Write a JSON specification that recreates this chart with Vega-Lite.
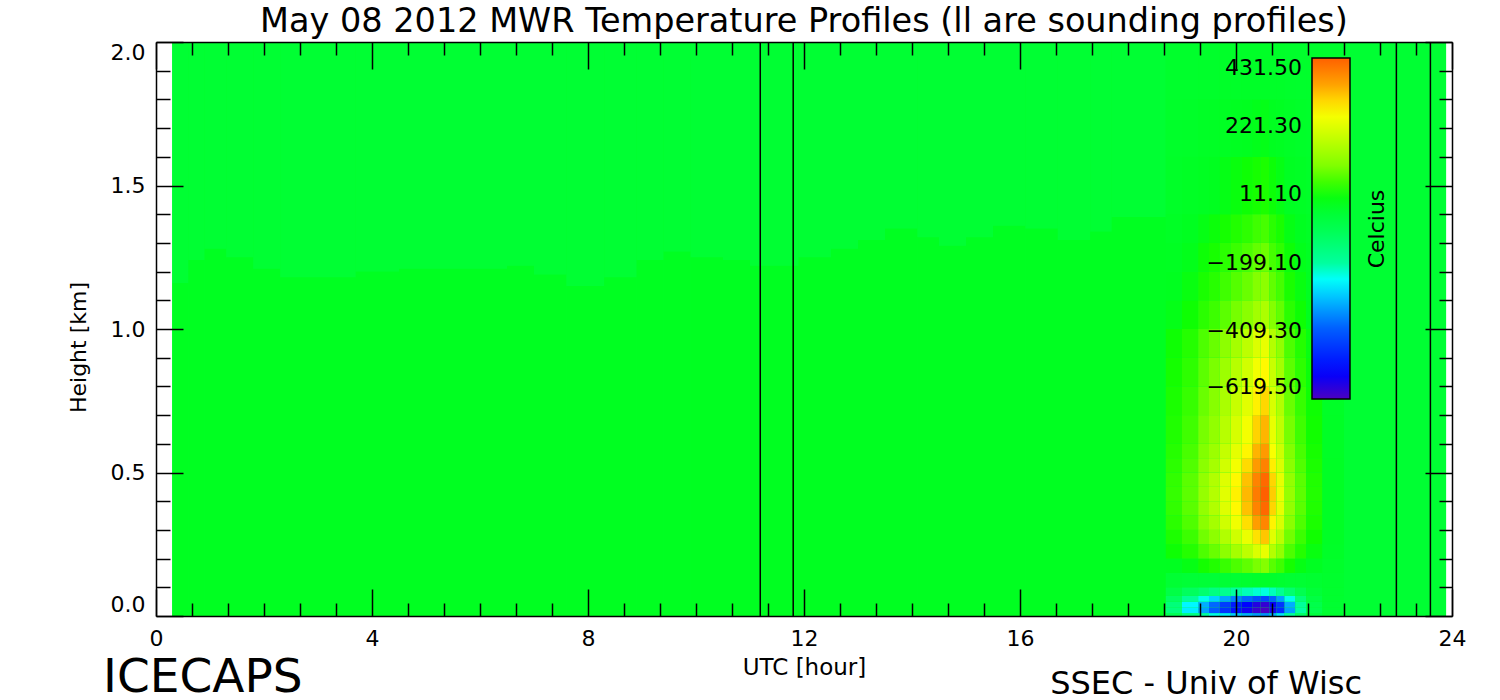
{
"$schema": "https://vega.github.io/schema/vega-lite/v6.json",
"width": 1296, "height": 574,
"autosize": {"type": "none"},
"padding": {"left": 156, "top": 42, "right": 48, "bottom": 84},
"background": "white",
"config": {"view": {"stroke": null}, "font": "DejaVu Sans"},
"title": {"text": "May 08 2012 MWR Temperature Profiles (ll are sounding profiles)", "fontSize": 33.5, "font": "DejaVu Sans", "fontWeight": "normal", "color": "black", "anchor": "middle", "offset": 2},
"resolve": {"axis": {"x": "independent", "y": "independent"}},
"layer": [
{
"data": {"values": [
{"a":0.3,"b":23.89,"c":0,"d":2,"v":-30},
{"a":0.3,"b":0.6,"c":0,"d":1.16,"v":-15},{"a":0.3,"b":0.6,"c":1.16,"d":2,"v":-45},
{"a":0.6,"b":0.9,"c":0,"d":1.24,"v":-15},{"a":0.6,"b":0.9,"c":1.24,"d":2,"v":-45},
{"a":0.9,"b":1.3,"c":0,"d":1.28,"v":-15},{"a":0.9,"b":1.3,"c":1.28,"d":2,"v":-45},
{"a":1.3,"b":1.8,"c":0,"d":1.25,"v":-15},{"a":1.3,"b":1.8,"c":1.25,"d":2,"v":-45},
{"a":1.8,"b":2.3,"c":0,"d":1.21,"v":-15},{"a":1.8,"b":2.3,"c":1.21,"d":2,"v":-45},
{"a":2.3,"b":3.7,"c":0,"d":1.18,"v":-15},{"a":2.3,"b":3.7,"c":1.18,"d":2,"v":-45},
{"a":3.7,"b":4.5,"c":0,"d":1.2,"v":-15},{"a":3.7,"b":4.5,"c":1.2,"d":2,"v":-45},
{"a":4.5,"b":6.5,"c":0,"d":1.21,"v":-15},{"a":4.5,"b":6.5,"c":1.21,"d":2,"v":-45},
{"a":6.5,"b":7,"c":0,"d":1.22,"v":-15},{"a":6.5,"b":7,"c":1.22,"d":2,"v":-45},
{"a":7,"b":7.6,"c":0,"d":1.19,"v":-15},{"a":7,"b":7.6,"c":1.19,"d":2,"v":-45},
{"a":7.6,"b":8.3,"c":0,"d":1.15,"v":-15},{"a":7.6,"b":8.3,"c":1.15,"d":2,"v":-45},
{"a":8.3,"b":8.9,"c":0,"d":1.18,"v":-15},{"a":8.3,"b":8.9,"c":1.18,"d":2,"v":-45},
{"a":8.9,"b":9.4,"c":0,"d":1.24,"v":-15},{"a":8.9,"b":9.4,"c":1.24,"d":2,"v":-45},
{"a":9.4,"b":9.9,"c":0,"d":1.27,"v":-15},{"a":9.4,"b":9.9,"c":1.27,"d":2,"v":-45},
{"a":9.9,"b":10.5,"c":0,"d":1.25,"v":-15},{"a":9.9,"b":10.5,"c":1.25,"d":2,"v":-45},
{"a":10.5,"b":11,"c":0,"d":1.24,"v":-15},{"a":10.5,"b":11,"c":1.24,"d":2,"v":-45},
{"a":11,"b":11.9,"c":0,"d":1.22,"v":-15},{"a":11,"b":11.9,"c":1.22,"d":2,"v":-45},
{"a":11.9,"b":12.5,"c":0,"d":1.25,"v":-15},{"a":11.9,"b":12.5,"c":1.25,"d":2,"v":-45},
{"a":12.5,"b":13,"c":0,"d":1.28,"v":-15},{"a":12.5,"b":13,"c":1.28,"d":2,"v":-45},
{"a":13,"b":13.5,"c":0,"d":1.31,"v":-15},{"a":13,"b":13.5,"c":1.31,"d":2,"v":-45},
{"a":13.5,"b":14.1,"c":0,"d":1.35,"v":-15},{"a":13.5,"b":14.1,"c":1.35,"d":2,"v":-45},
{"a":14.1,"b":14.5,"c":0,"d":1.32,"v":-15},{"a":14.1,"b":14.5,"c":1.32,"d":2,"v":-45},
{"a":14.5,"b":15,"c":0,"d":1.29,"v":-15},{"a":14.5,"b":15,"c":1.29,"d":2,"v":-45},
{"a":15,"b":15.5,"c":0,"d":1.32,"v":-15},{"a":15,"b":15.5,"c":1.32,"d":2,"v":-45},
{"a":15.5,"b":16.1,"c":0,"d":1.36,"v":-15},{"a":15.5,"b":16.1,"c":1.36,"d":2,"v":-45},
{"a":16.1,"b":16.7,"c":0,"d":1.35,"v":-15},{"a":16.1,"b":16.7,"c":1.35,"d":2,"v":-45},
{"a":16.7,"b":17.3,"c":0,"d":1.31,"v":-15},{"a":16.7,"b":17.3,"c":1.31,"d":2,"v":-45},
{"a":17.3,"b":17.7,"c":0,"d":1.34,"v":-15},{"a":17.3,"b":17.7,"c":1.34,"d":2,"v":-45},
{"a":17.7,"b":18.7,"c":0,"d":1.39,"v":-15},{"a":17.7,"b":18.7,"c":1.39,"d":2,"v":-45},
{"a":22,"b":23.89,"c":0,"d":2,"v":-45},
{"a":18.7,"b":19,"c":0,"d":0.01,"v":-102},{"a":18.7,"b":19,"c":0.01,"d":0.03,"v":-157},{"a":18.7,"b":19,"c":0.03,"d":0.05,"v":-153},{"a":18.7,"b":19,"c":0.05,"d":0.07,"v":-119},{"a":18.7,"b":19,"c":0.07,"d":0.1,"v":-77},{"a":18.7,"b":19,"c":0.1,"d":0.15,"v":-45},{"a":18.7,"b":19,"c":0.15,"d":0.2,"v":-13},{"a":18.7,"b":19,"c":0.2,"d":0.25,"v":8},{"a":18.7,"b":19,"c":0.25,"d":0.3,"v":21},{"a":18.7,"b":19,"c":0.3,"d":0.35,"v":32},{"a":18.7,"b":19,"c":0.35,"d":0.4,"v":38},{"a":18.7,"b":19,"c":0.4,"d":0.45,"v":40},{"a":18.7,"b":19,"c":0.45,"d":0.5,"v":38},{"a":18.7,"b":19,"c":0.5,"d":0.55,"v":33},{"a":18.7,"b":19,"c":0.55,"d":0.6,"v":28},{"a":18.7,"b":19,"c":0.6,"d":0.7,"v":23},{"a":18.7,"b":19,"c":0.7,"d":0.8,"v":19},{"a":18.7,"b":19,"c":0.8,"d":0.9,"v":14},{"a":18.7,"b":19,"c":0.9,"d":1,"v":8},{"a":18.7,"b":19,"c":1,"d":1.1,"v":-5},{"a":18.7,"b":19,"c":1.1,"d":1.2,"v":-11},{"a":18.7,"b":19,"c":1.2,"d":1.3,"v":-16},{"a":18.7,"b":19,"c":1.3,"d":1.4,"v":-21},{"a":18.7,"b":19,"c":1.4,"d":1.6,"v":-26},{"a":18.7,"b":19,"c":1.6,"d":1.8,"v":-30},{"a":18.7,"b":19,"c":1.8,"d":2,"v":-33},
{"a":19,"b":19.3,"c":0,"d":0.01,"v":-163},{"a":19,"b":19.3,"c":0.01,"d":0.03,"v":-267},{"a":19,"b":19.3,"c":0.03,"d":0.05,"v":-259},{"a":19,"b":19.3,"c":0.05,"d":0.07,"v":-195},{"a":19,"b":19.3,"c":0.07,"d":0.1,"v":-115},{"a":19,"b":19.3,"c":0.1,"d":0.15,"v":-50},{"a":19,"b":19.3,"c":0.15,"d":0.2,"v":-3},{"a":19,"b":19.3,"c":0.2,"d":0.25,"v":27},{"a":19,"b":19.3,"c":0.25,"d":0.3,"v":46},{"a":19,"b":19.3,"c":0.3,"d":0.35,"v":62},{"a":19,"b":19.3,"c":0.35,"d":0.4,"v":70},{"a":19,"b":19.3,"c":0.4,"d":0.45,"v":72},{"a":19,"b":19.3,"c":0.45,"d":0.5,"v":70},{"a":19,"b":19.3,"c":0.5,"d":0.55,"v":63},{"a":19,"b":19.3,"c":0.55,"d":0.6,"v":56},{"a":19,"b":19.3,"c":0.6,"d":0.7,"v":49},{"a":19,"b":19.3,"c":0.7,"d":0.8,"v":42},{"a":19,"b":19.3,"c":0.8,"d":0.9,"v":35},{"a":19,"b":19.3,"c":0.9,"d":1,"v":27},{"a":19,"b":19.3,"c":1,"d":1.1,"v":9},{"a":19,"b":19.3,"c":1.1,"d":1.2,"v":0},{"a":19,"b":19.3,"c":1.2,"d":1.3,"v":-7},{"a":19,"b":19.3,"c":1.3,"d":1.4,"v":-14},{"a":19,"b":19.3,"c":1.4,"d":1.6,"v":-22},{"a":19,"b":19.3,"c":1.6,"d":1.8,"v":-28},{"a":19,"b":19.3,"c":1.8,"d":2,"v":-33},
{"a":19.3,"b":19.5,"c":0,"d":0.01,"v":-201},{"a":19.3,"b":19.5,"c":0.01,"d":0.03,"v":-337},{"a":19.3,"b":19.5,"c":0.03,"d":0.05,"v":-326},{"a":19.3,"b":19.5,"c":0.05,"d":0.07,"v":-243},{"a":19.3,"b":19.5,"c":0.07,"d":0.1,"v":-139},{"a":19.3,"b":19.5,"c":0.1,"d":0.15,"v":-50},{"a":19.3,"b":19.5,"c":0.15,"d":0.2,"v":14},{"a":19.3,"b":19.5,"c":0.2,"d":0.25,"v":60},{"a":19.3,"b":19.5,"c":0.25,"d":0.3,"v":88},{"a":19.3,"b":19.5,"c":0.3,"d":0.35,"v":112},{"a":19.3,"b":19.5,"c":0.35,"d":0.4,"v":124},{"a":19.3,"b":19.5,"c":0.4,"d":0.45,"v":128},{"a":19.3,"b":19.5,"c":0.45,"d":0.5,"v":124},{"a":19.3,"b":19.5,"c":0.5,"d":0.55,"v":114},{"a":19.3,"b":19.5,"c":0.55,"d":0.6,"v":103},{"a":19.3,"b":19.5,"c":0.6,"d":0.7,"v":93},{"a":19.3,"b":19.5,"c":0.7,"d":0.8,"v":82},{"a":19.3,"b":19.5,"c":0.8,"d":0.9,"v":72},{"a":19.3,"b":19.5,"c":0.9,"d":1,"v":60},{"a":19.3,"b":19.5,"c":1,"d":1.1,"v":32},{"a":19.3,"b":19.5,"c":1.1,"d":1.2,"v":18},{"a":19.3,"b":19.5,"c":1.2,"d":1.3,"v":7},{"a":19.3,"b":19.5,"c":1.3,"d":1.4,"v":-3},{"a":19.3,"b":19.5,"c":1.4,"d":1.6,"v":-16},{"a":19.3,"b":19.5,"c":1.6,"d":1.8,"v":-24},{"a":19.3,"b":19.5,"c":1.8,"d":2,"v":-31},
{"a":19.5,"b":19.7,"c":0,"d":0.01,"v":-240},{"a":19.5,"b":19.7,"c":0.01,"d":0.03,"v":-406},{"a":19.5,"b":19.7,"c":0.03,"d":0.05,"v":-393},{"a":19.5,"b":19.7,"c":0.05,"d":0.07,"v":-291},{"a":19.5,"b":19.7,"c":0.07,"d":0.1,"v":-163},{"a":19.5,"b":19.7,"c":0.1,"d":0.15,"v":-50},{"a":19.5,"b":19.7,"c":0.15,"d":0.2,"v":25},{"a":19.5,"b":19.7,"c":0.2,"d":0.25,"v":81},{"a":19.5,"b":19.7,"c":0.25,"d":0.3,"v":116},{"a":19.5,"b":19.7,"c":0.3,"d":0.35,"v":146},{"a":19.5,"b":19.7,"c":0.35,"d":0.4,"v":161},{"a":19.5,"b":19.7,"c":0.4,"d":0.45,"v":165},{"a":19.5,"b":19.7,"c":0.45,"d":0.5,"v":161},{"a":19.5,"b":19.7,"c":0.5,"d":0.55,"v":148},{"a":19.5,"b":19.7,"c":0.55,"d":0.6,"v":135},{"a":19.5,"b":19.7,"c":0.6,"d":0.7,"v":122},{"a":19.5,"b":19.7,"c":0.7,"d":0.8,"v":109},{"a":19.5,"b":19.7,"c":0.8,"d":0.9,"v":96},{"a":19.5,"b":19.7,"c":0.9,"d":1,"v":81},{"a":19.5,"b":19.7,"c":1,"d":1.1,"v":47},{"a":19.5,"b":19.7,"c":1.1,"d":1.2,"v":30},{"a":19.5,"b":19.7,"c":1.2,"d":1.3,"v":17},{"a":19.5,"b":19.7,"c":1.3,"d":1.4,"v":4},{"a":19.5,"b":19.7,"c":1.4,"d":1.6,"v":-11},{"a":19.5,"b":19.7,"c":1.6,"d":1.8,"v":-22},{"a":19.5,"b":19.7,"c":1.8,"d":2,"v":-31},
{"a":19.7,"b":19.9,"c":0,"d":0.01,"v":-272},{"a":19.7,"b":19.9,"c":0.01,"d":0.03,"v":-464},{"a":19.7,"b":19.9,"c":0.03,"d":0.05,"v":-449},{"a":19.7,"b":19.9,"c":0.05,"d":0.07,"v":-331},{"a":19.7,"b":19.9,"c":0.07,"d":0.1,"v":-183},{"a":19.7,"b":19.9,"c":0.1,"d":0.15,"v":-48},{"a":19.7,"b":19.9,"c":0.15,"d":0.2,"v":43},{"a":19.7,"b":19.9,"c":0.2,"d":0.25,"v":116},{"a":19.7,"b":19.9,"c":0.25,"d":0.3,"v":161},{"a":19.7,"b":19.9,"c":0.3,"d":0.35,"v":200},{"a":19.7,"b":19.9,"c":0.35,"d":0.4,"v":220},{"a":19.7,"b":19.9,"c":0.4,"d":0.45,"v":226},{"a":19.7,"b":19.9,"c":0.45,"d":0.5,"v":220},{"a":19.7,"b":19.9,"c":0.5,"d":0.55,"v":203},{"a":19.7,"b":19.9,"c":0.55,"d":0.6,"v":186},{"a":19.7,"b":19.9,"c":0.6,"d":0.7,"v":169},{"a":19.7,"b":19.9,"c":0.7,"d":0.8,"v":153},{"a":19.7,"b":19.9,"c":0.8,"d":0.9,"v":136},{"a":19.7,"b":19.9,"c":0.9,"d":1,"v":116},{"a":19.7,"b":19.9,"c":1,"d":1.1,"v":71},{"a":19.7,"b":19.9,"c":1.1,"d":1.2,"v":49},{"a":19.7,"b":19.9,"c":1.2,"d":1.3,"v":32},{"a":19.7,"b":19.9,"c":1.3,"d":1.4,"v":15},{"a":19.7,"b":19.9,"c":1.4,"d":1.6,"v":-4},{"a":19.7,"b":19.9,"c":1.6,"d":1.8,"v":-18},{"a":19.7,"b":19.9,"c":1.8,"d":2,"v":-29},
{"a":19.9,"b":20.1,"c":0,"d":0.01,"v":-301},{"a":19.9,"b":20.1,"c":0.01,"d":0.03,"v":-516},{"a":19.9,"b":20.1,"c":0.03,"d":0.05,"v":-500},{"a":19.9,"b":20.1,"c":0.05,"d":0.07,"v":-367},{"a":19.9,"b":20.1,"c":0.07,"d":0.1,"v":-201},{"a":19.9,"b":20.1,"c":0.1,"d":0.15,"v":-45},{"a":19.9,"b":20.1,"c":0.15,"d":0.2,"v":59},{"a":19.9,"b":20.1,"c":0.2,"d":0.25,"v":146},{"a":19.9,"b":20.1,"c":0.25,"d":0.3,"v":200},{"a":19.9,"b":20.1,"c":0.3,"d":0.35,"v":246},{"a":19.9,"b":20.1,"c":0.35,"d":0.4,"v":270},{"a":19.9,"b":20.1,"c":0.4,"d":0.45,"v":277},{"a":19.9,"b":20.1,"c":0.45,"d":0.5,"v":270},{"a":19.9,"b":20.1,"c":0.5,"d":0.55,"v":250},{"a":19.9,"b":20.1,"c":0.55,"d":0.6,"v":230},{"a":19.9,"b":20.1,"c":0.6,"d":0.7,"v":210},{"a":19.9,"b":20.1,"c":0.7,"d":0.8,"v":189},{"a":19.9,"b":20.1,"c":0.8,"d":0.9,"v":169},{"a":19.9,"b":20.1,"c":0.9,"d":1,"v":146},{"a":19.9,"b":20.1,"c":1,"d":1.1,"v":92},{"a":19.9,"b":20.1,"c":1.1,"d":1.2,"v":66},{"a":19.9,"b":20.1,"c":1.2,"d":1.3,"v":45},{"a":19.9,"b":20.1,"c":1.3,"d":1.4,"v":25},{"a":19.9,"b":20.1,"c":1.4,"d":1.6,"v":2},{"a":19.9,"b":20.1,"c":1.6,"d":1.8,"v":-15},{"a":19.9,"b":20.1,"c":1.8,"d":2,"v":-28},
{"a":20.1,"b":20.3,"c":0,"d":0.01,"v":-323},{"a":20.1,"b":20.3,"c":0.01,"d":0.03,"v":-557},{"a":20.1,"b":20.3,"c":0.03,"d":0.05,"v":-539},{"a":20.1,"b":20.3,"c":0.05,"d":0.07,"v":-395},{"a":20.1,"b":20.3,"c":0.07,"d":0.1,"v":-215},{"a":20.1,"b":20.3,"c":0.1,"d":0.15,"v":-40},{"a":20.1,"b":20.3,"c":0.15,"d":0.2,"v":74},{"a":20.1,"b":20.3,"c":0.2,"d":0.25,"v":176},{"a":20.1,"b":20.3,"c":0.25,"d":0.3,"v":238},{"a":20.1,"b":20.3,"c":0.3,"d":0.35,"v":293},{"a":20.1,"b":20.3,"c":0.35,"d":0.4,"v":320},{"a":20.1,"b":20.3,"c":0.4,"d":0.45,"v":328},{"a":20.1,"b":20.3,"c":0.45,"d":0.5,"v":320},{"a":20.1,"b":20.3,"c":0.5,"d":0.55,"v":297},{"a":20.1,"b":20.3,"c":0.55,"d":0.6,"v":273},{"a":20.1,"b":20.3,"c":0.6,"d":0.7,"v":250},{"a":20.1,"b":20.3,"c":0.7,"d":0.8,"v":226},{"a":20.1,"b":20.3,"c":0.8,"d":0.9,"v":203},{"a":20.1,"b":20.3,"c":0.9,"d":1,"v":176},{"a":20.1,"b":20.3,"c":1,"d":1.1,"v":113},{"a":20.1,"b":20.3,"c":1.1,"d":1.2,"v":82},{"a":20.1,"b":20.3,"c":1.2,"d":1.3,"v":59},{"a":20.1,"b":20.3,"c":1.3,"d":1.4,"v":35},{"a":20.1,"b":20.3,"c":1.4,"d":1.6,"v":8},{"a":20.1,"b":20.3,"c":1.6,"d":1.8,"v":-12},{"a":20.1,"b":20.3,"c":1.8,"d":2,"v":-27},
{"a":20.3,"b":20.45,"c":0,"d":0.01,"v":-345},{"a":20.3,"b":20.45,"c":0.01,"d":0.03,"v":-598},{"a":20.3,"b":20.45,"c":0.03,"d":0.05,"v":-578},{"a":20.3,"b":20.45,"c":0.05,"d":0.07,"v":-423},{"a":20.3,"b":20.45,"c":0.07,"d":0.1,"v":-229},{"a":20.3,"b":20.45,"c":0.1,"d":0.15,"v":-35},{"a":20.3,"b":20.45,"c":0.15,"d":0.2,"v":95},{"a":20.3,"b":20.45,"c":0.2,"d":0.25,"v":216},{"a":20.3,"b":20.45,"c":0.25,"d":0.3,"v":291},{"a":20.3,"b":20.45,"c":0.3,"d":0.35,"v":356},{"a":20.3,"b":20.45,"c":0.35,"d":0.4,"v":388},{"a":20.3,"b":20.45,"c":0.4,"d":0.45,"v":398},{"a":20.3,"b":20.45,"c":0.45,"d":0.5,"v":388},{"a":20.3,"b":20.45,"c":0.5,"d":0.55,"v":360},{"a":20.3,"b":20.45,"c":0.55,"d":0.6,"v":332},{"a":20.3,"b":20.45,"c":0.6,"d":0.7,"v":304},{"a":20.3,"b":20.45,"c":0.7,"d":0.8,"v":277},{"a":20.3,"b":20.45,"c":0.8,"d":0.9,"v":249},{"a":20.3,"b":20.45,"c":0.9,"d":1,"v":216},{"a":20.3,"b":20.45,"c":1,"d":1.1,"v":142},{"a":20.3,"b":20.45,"c":1.1,"d":1.2,"v":105},{"a":20.3,"b":20.45,"c":1.2,"d":1.3,"v":77},{"a":20.3,"b":20.45,"c":1.3,"d":1.4,"v":49},{"a":20.3,"b":20.45,"c":1.4,"d":1.6,"v":16},{"a":20.3,"b":20.45,"c":1.6,"d":1.8,"v":-7},{"a":20.3,"b":20.45,"c":1.8,"d":2,"v":-26},
{"a":20.45,"b":20.62,"c":0,"d":0.01,"v":-355},{"a":20.45,"b":20.62,"c":0.01,"d":0.03,"v":-615},{"a":20.45,"b":20.62,"c":0.03,"d":0.05,"v":-595},{"a":20.45,"b":20.62,"c":0.05,"d":0.07,"v":-435},{"a":20.45,"b":20.62,"c":0.07,"d":0.1,"v":-235},{"a":20.45,"b":20.62,"c":0.1,"d":0.15,"v":-30},{"a":20.45,"b":20.62,"c":0.15,"d":0.2,"v":105},{"a":20.45,"b":20.62,"c":0.2,"d":0.25,"v":235},{"a":20.45,"b":20.62,"c":0.25,"d":0.3,"v":315},{"a":20.45,"b":20.62,"c":0.3,"d":0.35,"v":385},{"a":20.45,"b":20.62,"c":0.35,"d":0.4,"v":420},{"a":20.45,"b":20.62,"c":0.4,"d":0.45,"v":431},{"a":20.45,"b":20.62,"c":0.45,"d":0.5,"v":420},{"a":20.45,"b":20.62,"c":0.5,"d":0.55,"v":390},{"a":20.45,"b":20.62,"c":0.55,"d":0.6,"v":360},{"a":20.45,"b":20.62,"c":0.6,"d":0.7,"v":330},{"a":20.45,"b":20.62,"c":0.7,"d":0.8,"v":300},{"a":20.45,"b":20.62,"c":0.8,"d":0.9,"v":270},{"a":20.45,"b":20.62,"c":0.9,"d":1,"v":235},{"a":20.45,"b":20.62,"c":1,"d":1.1,"v":155},{"a":20.45,"b":20.62,"c":1.1,"d":1.2,"v":115},{"a":20.45,"b":20.62,"c":1.2,"d":1.3,"v":85},{"a":20.45,"b":20.62,"c":1.3,"d":1.4,"v":55},{"a":20.45,"b":20.62,"c":1.4,"d":1.6,"v":20},{"a":20.45,"b":20.62,"c":1.6,"d":1.8,"v":-5},{"a":20.45,"b":20.62,"c":1.8,"d":2,"v":-25},
{"a":20.62,"b":20.75,"c":0,"d":0.01,"v":-326},{"a":20.62,"b":20.75,"c":0.01,"d":0.03,"v":-563},{"a":20.62,"b":20.75,"c":0.03,"d":0.05,"v":-545},{"a":20.62,"b":20.75,"c":0.05,"d":0.07,"v":-399},{"a":20.62,"b":20.75,"c":0.07,"d":0.1,"v":-217},{"a":20.62,"b":20.75,"c":0.1,"d":0.15,"v":-35},{"a":20.62,"b":20.75,"c":0.15,"d":0.2,"v":69},{"a":20.62,"b":20.75,"c":0.2,"d":0.25,"v":165},{"a":20.62,"b":20.75,"c":0.25,"d":0.3,"v":224},{"a":20.62,"b":20.75,"c":0.3,"d":0.35,"v":276},{"a":20.62,"b":20.75,"c":0.35,"d":0.4,"v":302},{"a":20.62,"b":20.75,"c":0.4,"d":0.45,"v":310},{"a":20.62,"b":20.75,"c":0.45,"d":0.5,"v":302},{"a":20.62,"b":20.75,"c":0.5,"d":0.55,"v":280},{"a":20.62,"b":20.75,"c":0.55,"d":0.6,"v":257},{"a":20.62,"b":20.75,"c":0.6,"d":0.7,"v":235},{"a":20.62,"b":20.75,"c":0.7,"d":0.8,"v":213},{"a":20.62,"b":20.75,"c":0.8,"d":0.9,"v":191},{"a":20.62,"b":20.75,"c":0.9,"d":1,"v":165},{"a":20.62,"b":20.75,"c":1,"d":1.1,"v":106},{"a":20.62,"b":20.75,"c":1.1,"d":1.2,"v":76},{"a":20.62,"b":20.75,"c":1.2,"d":1.3,"v":54},{"a":20.62,"b":20.75,"c":1.3,"d":1.4,"v":32},{"a":20.62,"b":20.75,"c":1.4,"d":1.6,"v":6},{"a":20.62,"b":20.75,"c":1.6,"d":1.8,"v":-13},{"a":20.62,"b":20.75,"c":1.8,"d":2,"v":-28},
{"a":20.75,"b":20.9,"c":0,"d":0.01,"v":-278},{"a":20.75,"b":20.9,"c":0.01,"d":0.03,"v":-476},{"a":20.75,"b":20.9,"c":0.03,"d":0.05,"v":-461},{"a":20.75,"b":20.9,"c":0.05,"d":0.07,"v":-339},{"a":20.75,"b":20.9,"c":0.07,"d":0.1,"v":-187},{"a":20.75,"b":20.9,"c":0.1,"d":0.15,"v":-40},{"a":20.75,"b":20.9,"c":0.15,"d":0.2,"v":48},{"a":20.75,"b":20.9,"c":0.2,"d":0.25,"v":124},{"a":20.75,"b":20.9,"c":0.25,"d":0.3,"v":172},{"a":20.75,"b":20.9,"c":0.3,"d":0.35,"v":213},{"a":20.75,"b":20.9,"c":0.35,"d":0.4,"v":233},{"a":20.75,"b":20.9,"c":0.4,"d":0.45,"v":240},{"a":20.75,"b":20.9,"c":0.45,"d":0.5,"v":233},{"a":20.75,"b":20.9,"c":0.5,"d":0.55,"v":216},{"a":20.75,"b":20.9,"c":0.55,"d":0.6,"v":198},{"a":20.75,"b":20.9,"c":0.6,"d":0.7,"v":180},{"a":20.75,"b":20.9,"c":0.7,"d":0.8,"v":163},{"a":20.75,"b":20.9,"c":0.8,"d":0.9,"v":145},{"a":20.75,"b":20.9,"c":0.9,"d":1,"v":124},{"a":20.75,"b":20.9,"c":1,"d":1.1,"v":77},{"a":20.75,"b":20.9,"c":1.1,"d":1.2,"v":54},{"a":20.75,"b":20.9,"c":1.2,"d":1.3,"v":36},{"a":20.75,"b":20.9,"c":1.3,"d":1.4,"v":18},{"a":20.75,"b":20.9,"c":1.4,"d":1.6,"v":-3},{"a":20.75,"b":20.9,"c":1.6,"d":1.8,"v":-17},{"a":20.75,"b":20.9,"c":1.8,"d":2,"v":-29},
{"a":20.9,"b":21.1,"c":0,"d":0.01,"v":-201},{"a":20.9,"b":21.1,"c":0.01,"d":0.03,"v":-337},{"a":20.9,"b":21.1,"c":0.03,"d":0.05,"v":-326},{"a":20.9,"b":21.1,"c":0.05,"d":0.07,"v":-243},{"a":20.9,"b":21.1,"c":0.07,"d":0.1,"v":-139},{"a":20.9,"b":21.1,"c":0.1,"d":0.15,"v":-45},{"a":20.9,"b":21.1,"c":0.15,"d":0.2,"v":14},{"a":20.9,"b":21.1,"c":0.2,"d":0.25,"v":60},{"a":20.9,"b":21.1,"c":0.25,"d":0.3,"v":88},{"a":20.9,"b":21.1,"c":0.3,"d":0.35,"v":112},{"a":20.9,"b":21.1,"c":0.35,"d":0.4,"v":124},{"a":20.9,"b":21.1,"c":0.4,"d":0.45,"v":128},{"a":20.9,"b":21.1,"c":0.45,"d":0.5,"v":124},{"a":20.9,"b":21.1,"c":0.5,"d":0.55,"v":114},{"a":20.9,"b":21.1,"c":0.55,"d":0.6,"v":103},{"a":20.9,"b":21.1,"c":0.6,"d":0.7,"v":93},{"a":20.9,"b":21.1,"c":0.7,"d":0.8,"v":82},{"a":20.9,"b":21.1,"c":0.8,"d":0.9,"v":72},{"a":20.9,"b":21.1,"c":0.9,"d":1,"v":60},{"a":20.9,"b":21.1,"c":1,"d":1.1,"v":32},{"a":20.9,"b":21.1,"c":1.1,"d":1.2,"v":18},{"a":20.9,"b":21.1,"c":1.2,"d":1.3,"v":7},{"a":20.9,"b":21.1,"c":1.3,"d":1.4,"v":-3},{"a":20.9,"b":21.1,"c":1.4,"d":1.6,"v":-16},{"a":20.9,"b":21.1,"c":1.6,"d":1.8,"v":-24},{"a":20.9,"b":21.1,"c":1.8,"d":2,"v":-31},
{"a":21.1,"b":21.3,"c":0,"d":0.01,"v":-128},{"a":21.1,"b":21.3,"c":0.01,"d":0.03,"v":-203},{"a":21.1,"b":21.3,"c":0.03,"d":0.05,"v":-197},{"a":21.1,"b":21.3,"c":0.05,"d":0.07,"v":-151},{"a":21.1,"b":21.3,"c":0.07,"d":0.1,"v":-93},{"a":21.1,"b":21.3,"c":0.1,"d":0.15,"v":-45},{"a":21.1,"b":21.3,"c":0.15,"d":0.2,"v":-3},{"a":21.1,"b":21.3,"c":0.2,"d":0.25,"v":27},{"a":21.1,"b":21.3,"c":0.25,"d":0.3,"v":46},{"a":21.1,"b":21.3,"c":0.3,"d":0.35,"v":62},{"a":21.1,"b":21.3,"c":0.35,"d":0.4,"v":70},{"a":21.1,"b":21.3,"c":0.4,"d":0.45,"v":72},{"a":21.1,"b":21.3,"c":0.45,"d":0.5,"v":70},{"a":21.1,"b":21.3,"c":0.5,"d":0.55,"v":63},{"a":21.1,"b":21.3,"c":0.55,"d":0.6,"v":56},{"a":21.1,"b":21.3,"c":0.6,"d":0.7,"v":49},{"a":21.1,"b":21.3,"c":0.7,"d":0.8,"v":42},{"a":21.1,"b":21.3,"c":0.8,"d":0.9,"v":35},{"a":21.1,"b":21.3,"c":0.9,"d":1,"v":27},{"a":21.1,"b":21.3,"c":1,"d":1.1,"v":9},{"a":21.1,"b":21.3,"c":1.1,"d":1.2,"v":0},{"a":21.1,"b":21.3,"c":1.2,"d":1.3,"v":-7},{"a":21.1,"b":21.3,"c":1.3,"d":1.4,"v":-14},{"a":21.1,"b":21.3,"c":1.4,"d":1.6,"v":-22},{"a":21.1,"b":21.3,"c":1.6,"d":1.8,"v":-28},{"a":21.1,"b":21.3,"c":1.8,"d":2,"v":-33},
{"a":21.3,"b":21.6,"c":0,"d":0.01,"v":-64},{"a":21.3,"b":21.6,"c":0.01,"d":0.03,"v":-87},{"a":21.3,"b":21.6,"c":0.03,"d":0.05,"v":-85},{"a":21.3,"b":21.6,"c":0.05,"d":0.07,"v":-71},{"a":21.3,"b":21.6,"c":0.07,"d":0.1,"v":-53},{"a":21.3,"b":21.6,"c":0.1,"d":0.15,"v":-40},{"a":21.3,"b":21.6,"c":0.15,"d":0.2,"v":-17},{"a":21.3,"b":21.6,"c":0.2,"d":0.25,"v":0},{"a":21.3,"b":21.6,"c":0.25,"d":0.3,"v":11},{"a":21.3,"b":21.6,"c":0.3,"d":0.35,"v":20},{"a":21.3,"b":21.6,"c":0.35,"d":0.4,"v":24},{"a":21.3,"b":21.6,"c":0.4,"d":0.45,"v":26},{"a":21.3,"b":21.6,"c":0.45,"d":0.5,"v":24},{"a":21.3,"b":21.6,"c":0.5,"d":0.55,"v":20},{"a":21.3,"b":21.6,"c":0.55,"d":0.6,"v":16},{"a":21.3,"b":21.6,"c":0.6,"d":0.7,"v":12},{"a":21.3,"b":21.6,"c":0.7,"d":0.8,"v":9},{"a":21.3,"b":21.6,"c":0.8,"d":0.9,"v":5},{"a":21.3,"b":21.6,"c":0.9,"d":1,"v":0},{"a":21.3,"b":21.6,"c":1,"d":1.1,"v":-10},{"a":21.3,"b":21.6,"c":1.1,"d":1.2,"v":-15},{"a":21.3,"b":21.6,"c":1.2,"d":1.3,"v":-19},{"a":21.3,"b":21.6,"c":1.3,"d":1.4,"v":-23},{"a":21.3,"b":21.6,"c":1.4,"d":1.6,"v":-28},{"a":21.3,"b":21.6,"c":1.6,"d":1.8,"v":-31},{"a":21.3,"b":21.6,"c":1.8,"d":2,"v":-34},
{"a":21.6,"b":22,"c":0,"d":0.01,"v":-38},{"a":21.6,"b":22,"c":0.01,"d":0.03,"v":-41},{"a":21.6,"b":22,"c":0.03,"d":0.05,"v":-41},{"a":21.6,"b":22,"c":0.05,"d":0.07,"v":-39},{"a":21.6,"b":22,"c":0.07,"d":0.1,"v":-37},{"a":21.6,"b":22,"c":0.1,"d":0.15,"v":-35},{"a":21.6,"b":22,"c":0.15,"d":0.2,"v":-31},{"a":21.6,"b":22,"c":0.2,"d":0.25,"v":-27},{"a":21.6,"b":22,"c":0.25,"d":0.3,"v":-24},{"a":21.6,"b":22,"c":0.3,"d":0.35,"v":-22},{"a":21.6,"b":22,"c":0.35,"d":0.4,"v":-21},{"a":21.6,"b":22,"c":0.4,"d":0.45,"v":-21},{"a":21.6,"b":22,"c":0.45,"d":0.5,"v":-21},{"a":21.6,"b":22,"c":0.5,"d":0.55,"v":-22},{"a":21.6,"b":22,"c":0.55,"d":0.6,"v":-23},{"a":21.6,"b":22,"c":0.6,"d":0.7,"v":-24},{"a":21.6,"b":22,"c":0.7,"d":0.8,"v":-25},{"a":21.6,"b":22,"c":0.8,"d":0.9,"v":-26},{"a":21.6,"b":22,"c":0.9,"d":1,"v":-27},{"a":21.6,"b":22,"c":1,"d":1.1,"v":-29},{"a":21.6,"b":22,"c":1.1,"d":1.2,"v":-30},{"a":21.6,"b":22,"c":1.2,"d":1.3,"v":-31},{"a":21.6,"b":22,"c":1.3,"d":1.4,"v":-32},{"a":21.6,"b":22,"c":1.4,"d":1.6,"v":-33},{"a":21.6,"b":22,"c":1.6,"d":1.8,"v":-34},{"a":21.6,"b":22,"c":1.8,"d":2,"v":-35}
]},
"mark": {"type": "rect"},
"encoding": {
"x": {"field": "a", "type": "quantitative", "scale": {"domain": [0, 24], "nice": false, "zero": false},
 "axis": {"orient": "bottom", "zindex": 2, "values": [0,0.6667,1.3333,2,2.6667,3.3333,4,4.6667,5.3333,6,6.6667,7.3333,8,8.6667,9.3333,10,10.6667,11.3333,12,12.6667,13.3333,14,14.6667,15.3333,16,16.6667,17.3333,18,18.6667,19.3333,20,20.6667,21.3333,22,22.6667,23.3333,24],
  "format": ".0f", "labelExpr": "abs(datum.value/4 - round(datum.value/4)) < 0.001 ? datum.label : ''",
  "tickSize": {"condition": {"test": "abs(datum.value/4 - round(datum.value/4)) < 0.001", "value": -27}, "value": -13},
  "tickColor": "black", "tickWidth": 1.5, "domainColor": "black", "domainWidth": 1.5, "grid": false,
  "labelFontSize": 22, "labelFont": "DejaVu Sans", "labelColor": "black", "labelPadding": 39, "labelOverlap": false, "labelFlush": false,
  "title": "UTC [hour]", "titleFontSize": 23, "titleFont": "DejaVu Sans", "titleFontWeight": "normal", "titleColor": "black", "titleY": 51, "titleBaseline": "middle"}},
"x2": {"field": "b"},
"y": {"field": "c", "type": "quantitative", "scale": {"domain": [0, 2], "nice": false, "zero": false},
 "axis": {"orient": "left", "zindex": 2, "values": [0,0.1,0.2,0.3,0.4,0.5,0.6,0.7,0.8,0.9,1,1.1,1.2,1.3,1.4,1.5,1.6,1.7,1.8,1.9,2],
  "format": ".1f", "labelExpr": "abs(datum.value*2 - round(datum.value*2)) < 0.001 ? datum.label : ''",
  "tickSize": {"condition": {"test": "abs(datum.value*2 - round(datum.value*2)) < 0.001", "value": -27}, "value": -14},
  "tickColor": "black", "tickWidth": 1.5, "domainColor": "black", "domainWidth": 1.5, "grid": false,
  "labelFontSize": 22, "labelFont": "DejaVu Sans", "labelColor": "black", "labelPadding": 38, "labelOverlap": false, "labelFlush": true,
  "title": "Height [km]", "titleFontSize": 22, "titleFont": "DejaVu Sans", "titleFontWeight": "normal", "titleColor": "black", "titleX": -78, "titleY": 305, "titleBaseline": "middle", "titleAlign": "center"}},
"y2": {"field": "d"},
"color": {"field": "v", "type": "quantitative",
 "scale": {"domain": [-619.5,-540,-409.3,-330,-253,-199.1,-110,-40,-10,11.1,50,100,180,265,340,431.5],
  "range": ["#4b00c0","#0000ff","#0058ff","#00a8ff","#00ffff","#00ff9c","#00ff5a","#00ff30","#00ff1e","#10ff00","#40ff00","#80ff00","#c0ff00","#ffff00","#ffaa00","#ff6000"], "interpolate": "rgb", "clamp": true},
 "legend": {"type": "gradient", "orient": "none", "legendX": 1156, "legendY": 16, "direction": "vertical", "padding": 0,
  "gradientLength": 341, "gradientThickness": 38, "gradientStrokeColor": "black", "gradientStrokeWidth": 1.5,
  "values": [431.5, 221.3, 11.1, -199.1, -409.3, -619.5], "format": ".2f",
  "labelAlign": "right", "labelOffset": -48, "labelFontSize": 22, "labelFont": "DejaVu Sans", "labelColor": "black", "labelOverlap": false,
  "title": "Celcius", "titleOrient": "right", "titleFontSize": 22, "titleFont": "DejaVu Sans", "titleFontWeight": "normal", "titleColor": "black", "titleAnchor": "middle", "titlePadding": 12,
  "encode": {"labels": {"update": {"align": {"value": "right"}}}, "title": {"update": {"angle": {"value": 270}, "dy": {"value": 26}}}}}}
}
},
{
"data": {"values": [{"s": 11.19}, {"s": 11.8}, {"s": 22.97}, {"s": 23.6}]},
"mark": {"type": "rule", "color": "black", "strokeWidth": 1.5},
"encoding": {
"x": {"field": "s", "type": "quantitative", "scale": {"domain": [0, 24], "nice": false, "zero": false},
 "axis": {"orient": "top", "zindex": 2, "values": [0,0.6667,1.3333,2,2.6667,3.3333,4,4.6667,5.3333,6,6.6667,7.3333,8,8.6667,9.3333,10,10.6667,11.3333,12,12.6667,13.3333,14,14.6667,15.3333,16,16.6667,17.3333,18,18.6667,19.3333,20,20.6667,21.3333,22,22.6667,23.3333,24],
  "labels": false, "title": null, "grid": false,
  "tickSize": {"condition": {"test": "abs(datum.value/4 - round(datum.value/4)) < 0.001", "value": -27}, "value": -13},
  "tickColor": "black", "tickWidth": 1.5, "domainColor": "black", "domainWidth": 1.5}}
}
},
{
"data": {"values": [{"tx": -0.98, "ty": -0.265, "txt": "ICECAPS"}]},
"mark": {"type": "text", "align": "left", "baseline": "alphabetic", "fontSize": 47, "font": "DejaVu Sans", "color": "black"},
"encoding": {
"x": {"field": "tx", "type": "quantitative", "scale": {"domain": [0, 24], "nice": false, "zero": false}, "axis": null},
"y": {"field": "ty", "type": "quantitative", "scale": {"domain": [0, 2], "nice": false, "zero": false},
 "axis": {"orient": "right", "zindex": 2, "values": [0,0.1,0.2,0.3,0.4,0.5,0.6,0.7,0.8,0.9,1,1.1,1.2,1.3,1.4,1.5,1.6,1.7,1.8,1.9,2],
  "labels": false, "title": null, "grid": false,
  "tickSize": {"condition": {"test": "abs(datum.value*2 - round(datum.value*2)) < 0.001", "value": -27}, "value": -13},
  "tickColor": "black", "tickWidth": 1.5, "domainColor": "black", "domainWidth": 1.5}},
"text": {"field": "txt"}
}
},
{
"data": {"values": [{"tx": 16.56, "ty": -0.272, "txt": "SSEC - Univ of Wisc"}]},
"mark": {"type": "text", "align": "left", "baseline": "alphabetic", "fontSize": 32, "font": "DejaVu Sans", "color": "black"},
"encoding": {
"x": {"field": "tx", "type": "quantitative", "scale": {"domain": [0, 24], "nice": false, "zero": false}, "axis": null},
"y": {"field": "ty", "type": "quantitative", "scale": {"domain": [0, 2], "nice": false, "zero": false}, "axis": null},
"text": {"field": "txt"}
}
}
]
}
